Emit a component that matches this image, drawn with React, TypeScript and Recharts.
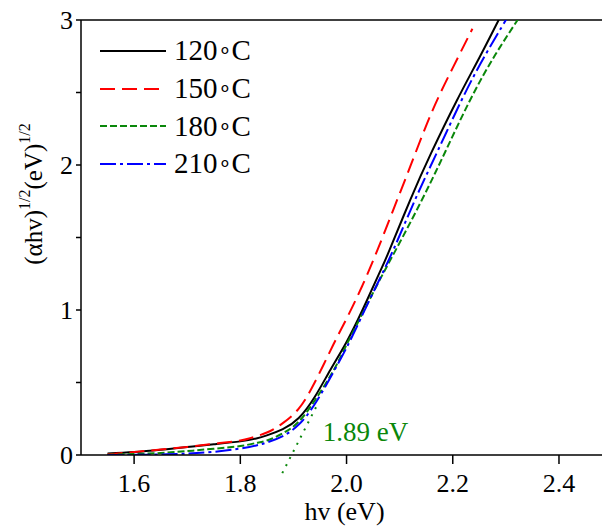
import React from 'react';
import { Legend, Line, LineChart, ReferenceDot, ReferenceLine, XAxis, YAxis } from 'recharts';

const FONT = '"Liberation Serif", "Times New Roman", serif';

// photon energy (eV) and (alpha h v)^1/2 readings per annealing temperature
const hv120 = [1.55, 1.6, 1.65, 1.7, 1.75, 1.8, 1.83, 1.85, 1.88, 1.91, 1.94, 1.97, 2.0, 2.03, 2.06, 2.081, 2.12, 2.159, 2.207, 2.25, 2.285, 2.3];
const sq120 = [0.01, 0.02, 0.036, 0.055, 0.074, 0.094, 0.114, 0.135, 0.178, 0.255, 0.4, 0.59, 0.78, 1.0, 1.24, 1.414, 1.76, 2.08, 2.44, 2.74, 2.99, 3.1];

const hv150 = [1.55, 1.6, 1.65, 1.7, 1.75, 1.8, 1.82, 1.85, 1.88, 1.91, 1.94, 1.975, 2.0, 2.03, 2.06, 2.09, 2.12, 2.16, 2.2, 2.237];
const sq150 = [0.005, 0.02, 0.038, 0.056, 0.077, 0.1, 0.118, 0.155, 0.22, 0.32, 0.5, 0.76, 0.94, 1.17, 1.43, 1.71, 1.99, 2.36, 2.67, 2.94];

const hv180 = [1.55, 1.6, 1.65, 1.7, 1.75, 1.8, 1.83, 1.85, 1.88, 1.91, 1.94, 1.975, 2.0, 2.025, 2.06, 2.095, 2.142, 2.187, 2.233, 2.28, 2.322, 2.335];
const sq180 = [0.002, 0.007, 0.014, 0.027, 0.043, 0.062, 0.083, 0.1, 0.15, 0.23, 0.375, 0.58, 0.76, 0.94, 1.19, 1.43, 1.76, 2.1, 2.45, 2.76, 3.0, 3.08];

const hv210 = [1.55, 1.6, 1.65, 1.7, 1.75, 1.8, 1.83, 1.85, 1.88, 1.91, 1.94, 1.975, 2.0, 2.02, 2.05, 2.088, 2.129, 2.172, 2.217, 2.26, 2.3, 2.315];
const sq210 = [0.0, 0.001, 0.004, 0.01, 0.022, 0.045, 0.066, 0.086, 0.13, 0.21, 0.35, 0.57, 0.74, 0.89, 1.12, 1.414, 1.76, 2.1, 2.45, 2.75, 3.0, 3.1];

const xTicks = [1.6, 1.8, 2.0, 2.2, 2.4];
const yTicks = [0, 0.5, 1, 1.5, 2, 2.5, 3];

// tangent used for the band gap estimate (180 C)
const tangentStart = { x: 1.879, y: -0.125 };
const tangentEnd = { x: 1.944, y: 0.34 };
const gapLabel = '1.89 eV';

const toPoints = (xs: number[], ys: number[]) => xs.map((hv, i) => ({ hv, v: ys[i] }));

const series = [
  { temp: '120', color: '#000000', dash: undefined as string | undefined, data: toPoints(hv120, sq120) },
  { temp: '150', color: '#ff0000', dash: '15 7', data: toPoints(hv150, sq150) },
  { temp: '180', color: '#0a870a', dash: '7 3', data: toPoints(hv180, sq180) },
  { temp: '210', color: '#0000ff', dash: '16 4 3 4', data: toPoints(hv210, sq210) },
];

const LegendBox = () => (
  <div style={{ fontFamily: FONT, fontSize: 29, color: '#000' }}>
    {series.map((s) => (
      <div key={s.temp} style={{ display: 'flex', alignItems: 'center', height: 37.7 }}>
        <svg width={66} height={10}>
          <line x1={0} y1={5} x2={66} y2={5} stroke={s.color} strokeWidth={2} strokeDasharray={s.dash} />
        </svg>
        <span style={{ marginLeft: 8, lineHeight: 1, whiteSpace: 'nowrap' }}>
          {s.temp}
          <span style={{ fontSize: 22, position: 'relative', top: -3 }}>∘</span>C
        </span>
      </div>
    ))}
  </div>
);

const YTitle = () => (
  <text x={42} y={194} transform="rotate(-90 42 194)" textAnchor="middle" fontFamily={FONT} fontSize={25} fill="#000">
    <tspan>(αhv)</tspan>
    <tspan dy={-12} fontSize={16}>1/2</tspan>
    <tspan dy={12}>(eV)</tspan>
    <tspan dy={-12} fontSize={16}>1/2</tspan>
  </text>
);

export default function App() {
  return (
    <div style={{ position: 'absolute', left: 0, top: 0, width: 602, height: 531, background: '#fff' }}>
      <LineChart width={602} height={531} margin={{ top: 20, right: 0, bottom: 0, left: 0 }}>
        <XAxis
          dataKey="hv"
          type="number"
          domain={[1.5, 2.481]}
          allowDataOverflow
          ticks={xTicks}
          tickFormatter={(v: number) => v.toFixed(1)}
          height={76}
          tickSize={9}
          tickMargin={10}
          stroke="#000"
          strokeWidth={1.5}
          tick={{ fill: '#000', fontSize: 26, fontFamily: FONT }}
          label={{ value: 'hv (eV)', position: 'insideBottom', offset: 11, dx: 3, fill: '#000', fontSize: 26, fontFamily: FONT }}
        />
        <YAxis
          type="number"
          domain={[0, 3]}
          allowDataOverflow
          ticks={yTicks}
          tickFormatter={(v: number) => (Number.isInteger(v) ? String(v) : '')}
          width={81}
          tickSize={5}
          tickMargin={3}
          stroke="#000"
          strokeWidth={1.5}
          tick={{ fill: '#000', fontSize: 26, fontFamily: FONT }}
          label={() => <YTitle />}
        />
        <ReferenceLine y={3} stroke="#000" strokeWidth={1.5} />
        <ReferenceLine
          segment={[tangentStart, tangentEnd]}
          ifOverflow="visible"
          stroke="#0a870a"
          strokeWidth={2}
          strokeDasharray="2 6"
        />
        <ReferenceDot
          x={1.946}
          y={0.16}
          r={0}
          stroke="none"
          label={{ value: gapLabel, position: 'right', fill: '#0a870a', fontSize: 27, fontFamily: FONT }}
        />
        {series.map((s) => (
          <Line
            key={s.temp}
            data={s.data}
            dataKey="v"
            name={`${s.temp}∘C`}
            type="natural"
            stroke={s.color}
            strokeWidth={2}
            strokeDasharray={s.dash}
            dot={false}
            activeDot={false}
            isAnimationActive={false}
          />
        ))}
        <Legend
          layout="vertical"
          align="center"
          verticalAlign="middle"
          content={<LegendBox />}
          wrapperStyle={{ left: 100, top: 32, width: 'auto' }}
        />
      </LineChart>
    </div>
  );
}
